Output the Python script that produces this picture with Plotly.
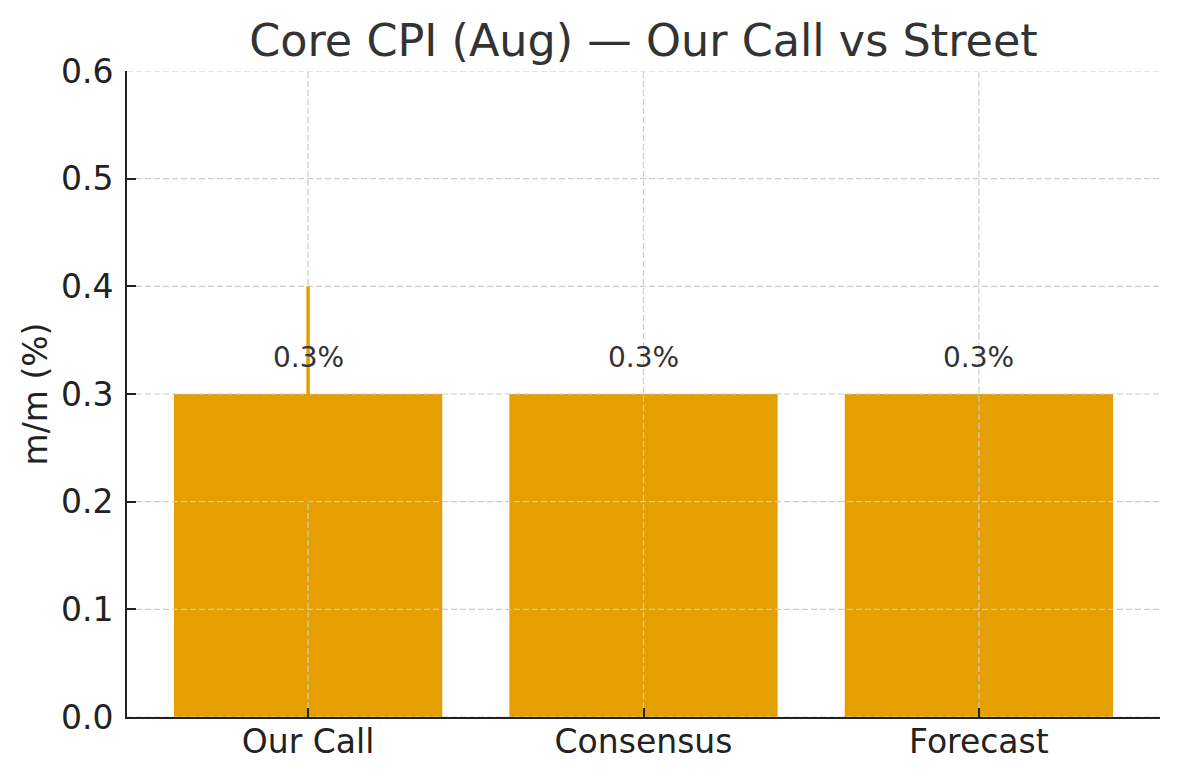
import plotly.graph_objects as go

# values
categories = ["Our Call", "Consensus", "Forecast"]
values = [0.3, 0.3, 0.3]
err = [0.1, 0.0, 0.0]
labels = ["0.3%", "0.3%", "0.3%"]
y_ticks = [0.0, 0.1, 0.2, 0.3, 0.4, 0.5, 0.6]

orange = "#E69F00"
grid_col = "#cccccc"
font = "DejaVu Sans"
xpos = list(range(len(categories)))
x_range = [-0.54, len(categories) - 1 + 0.54]

# page body has an 8px margin, so the figure is a bit smaller than the window
W, H = 1172, 772

fig = go.Figure()

# bars
fig.add_trace(go.Bar(
    x=xpos, y=values, width=0.8,
    marker=dict(color=orange, line=dict(width=0)),
    hoverinfo="skip",
))

# dashed grid on top of the bars (matplotlib style here)
gx, gy = [], []
for yv in y_ticks:
    gx += [x_range[0], x_range[1], None]
    gy += [yv, yv, None]
for xv in xpos:
    gx += [xv, xv, None]
    gy += [y_ticks[0], y_ticks[-1], None]
fig.add_trace(go.Scatter(
    x=gx, y=gy, mode="lines",
    line=dict(color=grid_col, width=1.2, dash="6px,3px"),
    hoverinfo="skip",
))

# error bar sits above the grid
fig.add_trace(go.Scatter(
    x=xpos, y=values, mode="markers",
    marker=dict(size=1, opacity=0),
    error_y=dict(type="data", array=err, color=orange, thickness=3.5, width=0, visible=True),
    hoverinfo="skip",
))

# value labels
for xv, v, t in zip(xpos, values, labels):
    fig.add_annotation(x=xv, y=v + 0.02, text=t, showarrow=False, yshift=-4,
                       yanchor="bottom", font=dict(family=font, size=28, color="#333333"))

fig.update_xaxes(
    range=x_range,
    tickvals=xpos, ticktext=categories,
    showgrid=False, zeroline=False,
    showline=True, linecolor="#222222", linewidth=2,
    ticks="inside", ticklen=9, tickwidth=2, tickcolor="#222222",
    tickfont=dict(family=font, size=33, color="#222222"),
    ticklabelstandoff=-6,
    layer="above traces",
)
fig.update_yaxes(
    range=[0, 0.6],
    tickvals=y_ticks,
    tickformat=".1f",
    showgrid=False, zeroline=False,
    showline=True, linecolor="#222222", linewidth=2,
    ticks="inside", ticklen=9, tickwidth=2, tickcolor="#222222",
    tickfont=dict(family=font, size=33, color="#222222"),
    ticklabelstandoff=5,
    title=dict(text="m/m (%)", font=dict(family=font, size=33, color="#222222"), standoff=3),
    layer="above traces",
)

fig.update_layout(
    width=W, height=H,
    margin=dict(l=119, r=20, t=63, b=63),
    plot_bgcolor="white", paper_bgcolor="white",
    showlegend=False,
    title=dict(text="Core CPI (Aug) — Our Call vs Street", x=0.5, xref="paper",
               y=1 - 32 / H, yref="container", yanchor="middle",
               font=dict(family=font, size=44.5, color="#333333")),
)

fig.write_html("out.html")
